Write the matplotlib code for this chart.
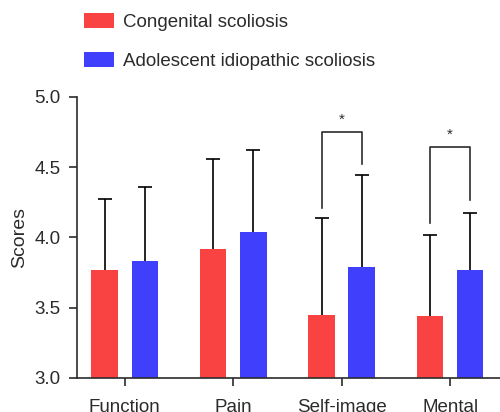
import matplotlib

matplotlib.use("Agg")
import matplotlib.pyplot as plt
from matplotlib.patches import Patch
import numpy as np

plt.rcParams["font.family"] = ["Liberation Sans", "DejaVu Sans"]

categories = ["Function", "Pain", "Self-image", "Mental"]
congenital_mean = [3.77, 3.92, 3.45, 3.44]
congenital_sd = [0.50, 0.64, 0.69, 0.58]
ais_mean = [3.83, 4.04, 3.79, 3.765]
ais_sd = [0.53, 0.58, 0.655, 0.405]
series_labels = ["Congenital scoliosis", "Adolescent idiopathic scoliosis"]

# significance brackets: (category index, left start, top, right end)
brackets = [(2, 4.21, 4.75, 4.525), (3, 4.10, 4.64, 4.265)]

red = "#F94343"
blue = "#4040FC"
ink = "#2b2b2b"

fig = plt.figure(figsize=(5.0, 4.12), dpi=100)
ax = fig.add_axes([0.154, 0.083, 0.846, 0.682])

x = np.arange(len(categories))
offset = 0.185
width = 0.245
err_kw = dict(ecolor="black", elinewidth=1.2, capsize=5, capthick=1.2)
for shift, means, sds, color in [(-offset, congenital_mean, congenital_sd, red),
                                 (offset, ais_mean, ais_sd, blue)]:
    bars = ax.bar(x + shift, means, width, color=color,
                  yerr=[np.zeros(len(x)), sds], error_kw=err_kw, zorder=2)
    # only the upper cap is wanted
    caplines = bars.errorbar.lines[1]
    caplines[0].set_visible(False)

for idx, y_left, y_top, y_right in brackets:
    ax.plot([idx - offset, idx - offset, idx + offset, idx + offset],
            [y_left, y_top, y_top, y_right], color=ink, lw=1.2, clip_on=False)
    ax.text(idx, y_top + 0.04, "*", ha="center", va="bottom", fontsize=11, color=ink)

ax.set_ylim(3.0, 5.0)
ax.set_xlim(-0.44, 3.46)
ax.set_yticks([3.0, 3.5, 4.0, 4.5, 5.0])
ax.set_yticklabels(["3.0", "3.5", "4.0", "4.5", "5.0"])
ax.set_xticks(x)
ax.set_xticklabels(categories)
ax.set_ylabel("Scores", fontsize=14, color=ink, labelpad=4)
ax.tick_params(axis="both", labelsize=13.5, colors=ink, length=6, width=1.2, pad=6)
ax.tick_params(axis="x", pad=9)
for side in ["top", "right"]:
    ax.spines[side].set_visible(False)
for side in ["left", "bottom"]:
    ax.spines[side].set_color(ink)
    ax.spines[side].set_linewidth(1.2)

handles = [Patch(facecolor=red), Patch(facecolor=blue)]
fig.legend(handles, series_labels, loc="upper left", bbox_to_anchor=(0.168, 0.968),
           frameon=False, fontsize=13.5, handlelength=1.6, handleheight=0.8,
           handletextpad=0.5, labelspacing=1.15, borderpad=0, borderaxespad=0,
           labelcolor=ink)

fig.savefig("out.png", dpi=100)
